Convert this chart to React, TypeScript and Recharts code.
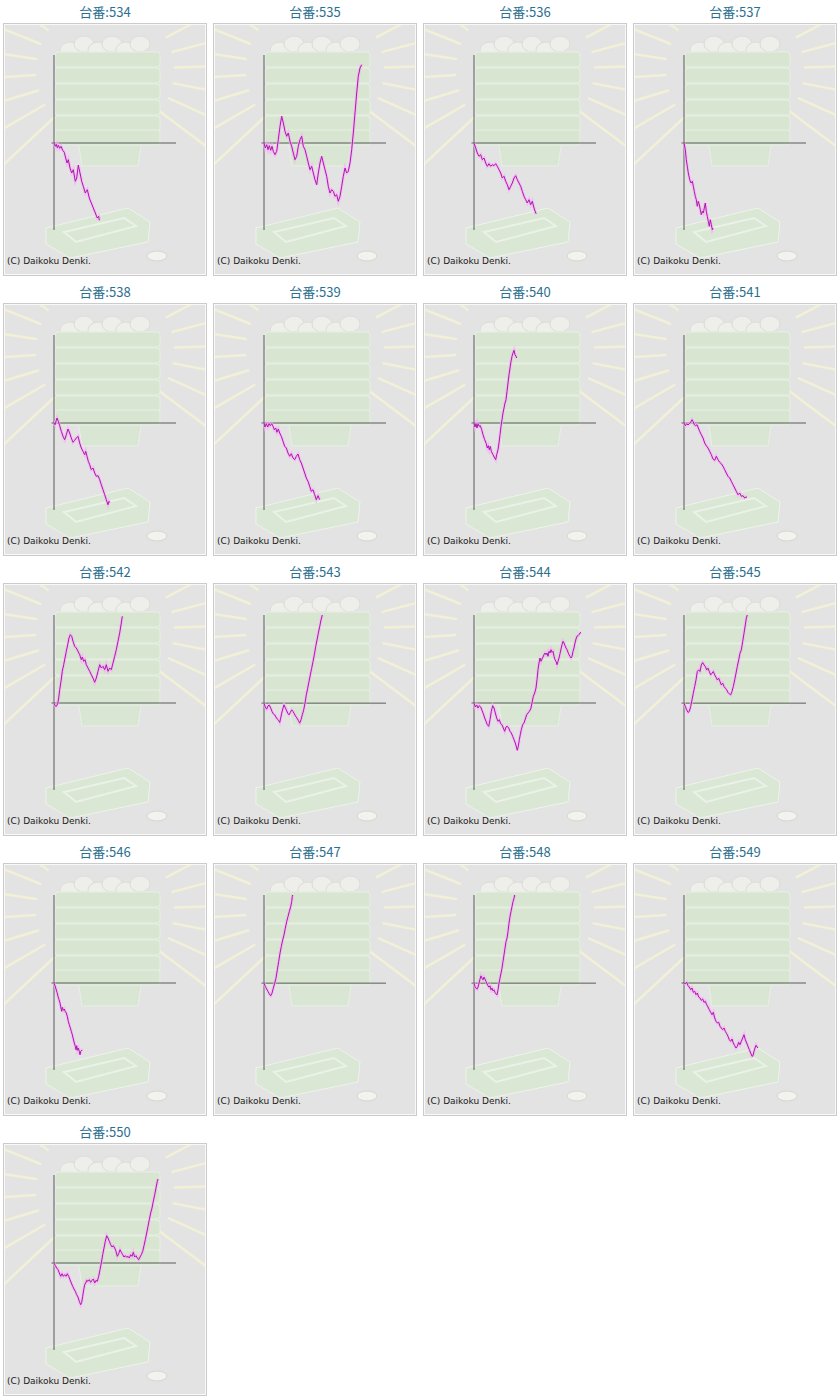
import { LineChart, Line, XAxis, YAxis, ReferenceLine } from "recharts";

// machine numbers
const machines = [534, 535, 536, 537, 538, 539, 540, 541, 542, 543, 544, 545, 546, 547, 548, 549, 550];

// [progress, balance]
const p534: [number, number][] = [
  [0, 0], [1.3, -3.3], [2.3, -1.3], [3.3, -4.7], [4.3, -2.3], [5.7, -5.3], [7, -3.3], [8.7, -7.3],
  [10.3, -9.3], [11.7, -15], [13, -20], [14.3, -16.7], [16, -25], [17.7, -30], [19.3, -26.7],
  [21.3, -38.3], [22.7, -35], [24.3, -22.3], [26, -30], [27.7, -38.3], [29.3, -43.3], [31.3, -50],
  [33.3, -46.7], [35.3, -55], [37.3, -60], [39.3, -65], [41.3, -70], [43.3, -75], [44.7, -73.3], [45.3, -77.3],
];
const p535: [number, number][] = [
  [0, 0], [1.3, -5], [2.7, -1.7], [4, -6.7], [5.3, -2.7], [6.7, -7.3], [8, -3.3], [9.3, -8.3], [11, -11.7],
  [12.7, -8.3], [14.3, 3.3], [16, 16.7], [17.7, 26.7], [19.3, 20], [21, 11.7], [22.7, 6.7], [24.3, 10],
  [26, 1.7], [27.7, -3.3], [29.3, -10], [31, -16.7], [32.7, -13.3], [34.3, -3.3], [36, 3.3], [37.7, 6.7],
  [39.3, -3.3], [41, -6.7], [42.7, -13.3], [44.3, -20], [46, -26.7], [47.7, -23.3], [49.3, -30], [51, -36.7],
  [52.7, -41.7], [54.3, -30], [56, -20], [57.7, -13.3], [59.3, -20], [61, -26.7], [62.7, -33.3], [64.3, -43.3],
  [66, -50], [67.7, -46.7], [69.3, -48.3], [71, -53.3], [72.7, -51.7], [74.3, -58.3], [76, -53.3], [77.7, -43.3],
  [79.3, -33.3], [81, -25], [82.7, -30], [84.3, -28.3], [86, -20], [87.7, -6.7], [89.3, 10], [91, 30],
  [92.7, 50], [94.3, 66.7], [96, 75], [97.7, 78.3],
];
const p536: [number, number][] = [
  [0, 0], [1.7, -5], [3.3, -10], [5, -13.3], [6.7, -11.7], [8.3, -16.7], [10, -15], [11.7, -20], [13.3, -23.3],
  [15, -20.7], [16.7, -23.3], [18.3, -21.7], [20, -22.7], [21.7, -20.7], [23.3, -23.3], [25, -26.7], [26.7, -30],
  [28.3, -35], [30, -33.3], [31.7, -38.3], [33.3, -41.7], [35, -46.7], [36.7, -43.3], [38.3, -40], [40, -35],
  [41.7, -32.7], [43.3, -36.7], [45, -40], [46.7, -43.3], [48.3, -48.3], [50, -53.3], [51.7, -56.7], [53.3, -60],
  [55, -56.7], [56.7, -61.7], [58.3, -58.3], [60, -65], [61.7, -70], [62.3, -70.7],
];
const p537: [number, number][] = [
  [0, 0], [1.3, -6.7], [2.3, -16.7], [3.3, -23.3], [4.3, -30], [5.7, -36.7], [7, -40], [8.3, -38.3],
  [9.3, -43.3], [10.3, -48.3], [11.3, -53.3], [12.3, -56.7], [13.3, -63.3], [14.3, -58.3], [15.3, -61.7],
  [16.3, -66.7], [17.3, -71.7], [18.3, -68.3], [19.3, -70], [20.3, -65], [21.3, -60], [22.3, -68.3],
  [23.3, -73.3], [24.3, -78.3], [25.3, -83.3], [26.3, -76.7], [27.3, -81.7], [28.3, -86.7], [29, -85],
];
const p538: [number, number][] = [
  [0, 0], [1, -1.7], [2, 1.7], [3, 5], [4.3, 1.7], [5.7, -2.7], [7.3, -8.3], [9, -13.3], [10.7, -16.7],
  [12.3, -11.7], [14, -6], [15.7, -10], [17.3, -15], [19, -19.3], [20.7, -17.3], [22.3, -15], [24, -13.3],
  [25.7, -20], [27.3, -25], [29, -28.3], [30.7, -31.7], [31.7, -28.3], [33, -33.3], [34.3, -38.3], [35.7, -41.7],
  [37.3, -46.7], [39, -45], [40.7, -50], [42.3, -53.3], [44, -52.7], [45.7, -56.7], [47.3, -61.7], [49, -66.7],
  [50.7, -71.7], [52.3, -76.7], [54, -81.7], [55, -78.3], [55.7, -79.3],
];
const p539: [number, number][] = [
  [0, 0], [1, -4], [2.3, -0.7], [3.7, -4], [5, -0.7], [6.3, -2.7], [7.7, -0.7], [9, -3.3], [10.3, -6.7],
  [11.7, -5], [13, -9.3], [14.3, -6], [15.7, -10], [17.3, -13.3], [19, -18.3], [20.7, -23.3], [22.3, -25],
  [24, -30], [25.7, -33.3], [27.3, -30.7], [29, -35], [30.7, -36.7], [32.3, -33.3], [34, -31], [35.7, -36.7],
  [37.3, -40], [39, -45], [40.7, -50], [42.3, -55], [44, -58.3], [45.7, -63.3], [47.3, -68.3], [49, -66.7],
  [50.7, -71.7], [52.3, -76.7], [54, -72.7], [55.7, -76.7],
];
const p540: [number, number][] = [
  [0, 0], [1, -4], [2, -0.7], [3, -5], [4, -0.7], [5, -3.3], [6.3, -2.7], [7.7, -6.7], [9, -11.7],
  [10.7, -16.7], [12.3, -20.7], [13.3, -25], [14.3, -22.7], [15.3, -26.7], [16.3, -23.3], [17.3, -28.3],
  [19, -31.7], [20.7, -35], [21.7, -36.7], [22.7, -31.7], [24, -26.7], [25, -20], [26, -11.7], [27, -3.3],
  [28, 3.3], [29, 10], [30, 15], [31, 20], [32, 23.3], [33, 31.7], [34, 40], [35, 48.3], [36, 55],
  [37, 61.7], [38, 66.7], [39, 70], [40, 72.7], [41, 68.3], [42, 66.7], [42.7, 65],
];
const p541: [number, number][] = [
  [0, 0], [1.3, -2.7], [2.7, -0.7], [4, -2], [5.3, -0.7], [6.7, 0.7], [8, 3.3], [9, 1.7], [10.3, -1.7],
  [11.7, -2.7], [13, -1.7], [14.3, -5], [15.7, -8.3], [17.3, -11.7], [19, -15], [20.7, -20], [22.3, -22.7],
  [24, -25], [25.7, -28.3], [27.3, -31.7], [29, -36], [30.7, -37.3], [32.3, -33.3], [34, -36.7], [35.7, -39.3],
  [37.3, -40.7], [39, -43.3], [40.7, -46.7], [42.3, -50], [44, -53.3], [45.7, -55], [47.3, -58.3], [49, -61.7],
  [50.7, -65], [52.3, -68.3], [54, -71.7], [55.7, -70], [57.3, -73.3], [59, -72.7], [60.7, -75], [62.3, -74], [63, -74.3],
];
const p542: [number, number][] = [
  [0, 0], [1, -2.7], [2.3, -3.3], [3.7, -0.7], [4.7, 5], [5.7, 13.3], [7, 21.7], [8.3, 31.7], [9.7, 38.3],
  [11, 45], [12.3, 51.7], [13.7, 58.3], [15, 65], [16.3, 68.3], [17.7, 66.7], [19, 61.7], [20.7, 56.7],
  [22.3, 55], [24, 51.7], [25.7, 48.3], [27.3, 43.3], [28.3, 46], [29.7, 41.7], [31, 43.3], [32.3, 38.3],
  [34, 35], [35.7, 31.7], [37.3, 28.3], [39, 25], [40.7, 20.7], [42.3, 25], [44, 31.7], [45.7, 38.3],
  [47.3, 35], [49, 36.7], [50.7, 33.3], [52.3, 38.3], [54, 31.7], [55.7, 35], [57.3, 33.3], [59, 40],
  [60.7, 46.7], [62.3, 53.3], [64, 61.7], [65.7, 70], [67.3, 80], [68.3, 86.7],
];
const p543: [number, number][] = [
  [0, 0], [1.3, -4], [2.7, -6], [4, -2.7], [5.3, -2], [6.7, -5], [8, -8.3], [9.3, -10.7], [10.7, -11.7],
  [12, -14], [13.3, -16], [14.7, -17.3], [15.7, -19.3], [16.7, -15], [17.7, -10], [19, -5], [20, -1.7],
  [21, -4], [22.3, -6.7], [23.7, -10], [25, -11.7], [26.3, -9.3], [27.7, -6.7], [29, -8.3], [30.3, -10.7],
  [31.7, -13.3], [33, -15], [34.3, -17.3], [35.7, -20], [37, -16.7], [38.3, -11.7], [39.7, -6.7], [41, 0],
  [42.3, 8.3], [43.7, 15], [45, 21.7], [46.3, 28.3], [47.7, 35], [49, 41.7], [50.3, 48.3], [51.7, 56.7],
  [53, 63.3], [54.3, 70], [55.7, 76.7], [57, 83.3], [58.3, 88.3],
];
const p544: [number, number][] = [
  [0, 0], [1.3, -4], [2.7, -2], [4, -5], [5.3, -2.7], [6.7, -4], [8, -7.3], [9.3, -10.7], [10.7, -15],
  [12, -18.3], [13.3, -21.7], [14.7, -23.3], [16, -16.7], [17.3, -8.3], [18.7, -2.7], [20, -5], [21.3, -10],
  [22.7, -15], [24, -18.3], [25.3, -16.7], [26.7, -20.7], [28, -21.7], [29.3, -25], [30.7, -28.3], [32, -24],
  [33.3, -23.3], [34.7, -25], [36, -28.3], [37.3, -30], [38.7, -33.3], [40, -36.7], [41.3, -40], [42.7, -45],
  [43.3, -47.3], [44.3, -43.3], [45.3, -36.7], [46.3, -31.7], [47.3, -26.7], [48.7, -21.7], [50, -20],
  [51.3, -16], [52.7, -11.7], [54, -10], [55.3, -8.3], [56.7, -6], [58, 0], [59.3, 6.7], [60.7, 10],
  [62, 15], [63, 23.3], [64, 33.3], [65, 40], [66, 45], [67, 41.7], [68, 44], [69, 46], [70, 48.3],
  [71, 50], [72, 48.3], [73, 50], [74, 46.7], [75, 51.7], [76, 50], [77, 53.3], [78, 50.7], [79, 51.7],
  [80, 46.7], [81, 43.3], [82, 41.7], [83, 38.3], [84, 41.7], [85, 45], [86, 49.3], [87, 54], [88, 58.3],
  [89, 61.7], [90, 60], [91, 57.3], [92, 55], [93, 53.3], [94, 50.7], [95, 48.3], [96, 46.7], [97, 45],
  [98, 46.7], [99, 51.7], [100, 55], [101, 60], [102, 64], [103, 66.7], [104, 67.3], [105, 68.3], [106, 70], [107, 70.7],
];
const p545: [number, number][] = [
  [0, 0], [1.3, -3.3], [2.7, -6.7], [4, -9.3], [5.3, -8.3], [6.7, -3.3], [8, 3.3], [9.3, 10], [10.7, 16.7],
  [12, 23.3], [13.3, 31.7], [14.7, 33.3], [16, 31.7], [17.3, 38.3], [18.7, 40.7], [20, 38.3], [21.3, 36.7],
  [22.7, 33.3], [24, 35], [25.3, 31.7], [26.7, 28.3], [28, 30], [29.3, 31.7], [30.7, 28.3], [32, 26],
  [33.3, 23.3], [34.7, 25], [36, 21.7], [37.3, 18.3], [38.7, 20], [40, 16.7], [41.3, 15], [42.7, 13.3],
  [44, 10.7], [45.3, 9.3], [46.7, 8.3], [48, 11.7], [49.3, 16.7], [50.7, 23.3], [52, 30], [53.3, 36.7],
  [54.7, 43.3], [56, 50], [57.3, 53.3], [58.7, 61.7], [60, 70], [61.3, 78.3], [62.3, 85], [63.3, 88.3],
];
const p546: [number, number][] = [
  [0, 0], [1, -2.7], [2, -6], [3, -9.3], [4, -13.3], [5, -16.7], [6, -20], [7, -25], [7.7, -28.3],
  [8.3, -24.3], [9.3, -27.3], [10.3, -26], [11.3, -28.7], [12.3, -30], [13.3, -33.3], [14.3, -38.3],
  [15.3, -41.7], [16.3, -45], [17.3, -48.3], [18.3, -51.7], [19.3, -56], [20.3, -60], [21.3, -63.3],
  [22, -66.7], [22.7, -62.7], [23.3, -67.3], [24.3, -65], [25.3, -68.3], [26, -71.7], [26.7, -68.3], [27.7, -67.3], [28, -68],
];
const p547: [number, number][] = [
  [0, 0], [1.3, -3.3], [2.7, -6], [4, -8.3], [5.3, -10.7], [6.7, -12.7], [8, -10], [9.3, -5], [10.7, 0],
  [12, 5], [13.3, 13.3], [14.7, 21.7], [16, 30], [17.3, 36.7], [18.7, 43.3], [20, 48.3], [21.3, 55],
  [22.7, 61.7], [24, 66.7], [25.3, 71.7], [26.7, 76.7], [27.7, 81.7], [28.3, 86.7], [28.7, 88.3],
];
const p548: [number, number][] = [
  [0, 0], [1, -3.3], [2, -5], [3, -6], [4, -4], [5, 0], [6, 4], [7, 7.3], [8, 5], [9, 3.3], [10, 6],
  [11, 4], [12, 1.7], [13, -0.7], [14, -2.7], [15, -4], [16, -2.7], [17, -6.7], [18, -5], [19, -7.7],
  [20, -6.7], [21, -9.3], [22, -10.7], [23, -11.7], [24, -6.7], [25, 0], [26, 5], [27, 10], [28, 15],
  [29, 21.7], [30, 28.3], [31, 35], [32, 41.7], [33, 45], [34, 51.7], [35, 60], [36, 66.7], [37, 71.7],
  [38, 76.7], [39, 81.7], [40, 85], [40.7, 88.3],
];
const p549: [number, number][] = [
  [0, 0], [1.3, -0.7], [2.7, 0.7], [4, -2.7], [5.3, -4], [6.7, -6.7], [8, -5], [9.3, -9.3], [10.7, -8.3],
  [12, -11.7], [13.3, -10], [14.7, -14], [16, -15], [17.3, -17.3], [18.7, -16], [20, -19.3], [21.3, -18.3],
  [22.7, -21.7], [24, -24], [25.3, -26.7], [26.7, -29.3], [28, -31.7], [29.3, -29.3], [30.7, -35], [32, -38.3],
  [33.3, -40], [34.7, -39.3], [36, -43.3], [37.3, -45], [38.7, -46.7], [40, -45], [41.3, -48.3], [42.7, -50.7],
  [44, -53.3], [45.3, -56.7], [46.7, -58.3], [48, -56], [49.3, -60], [50.7, -62.7], [52, -65], [53.3, -63.3],
  [54.7, -59.3], [56, -61.7], [57.3, -58.3], [58.7, -55], [60, -51.7], [61.3, -56.7], [62.7, -60], [64, -63.3],
  [65.3, -66.7], [66.7, -70], [68, -73.3], [69, -72.7], [70, -68.3], [71, -65], [72, -62.3], [73, -64], [74, -65],
];
const p550: [number, number][] = [
  [0, 0], [1.3, -2.7], [2.7, -5], [4, -6.7], [5.3, -10], [6.7, -13.3], [8, -10.7], [9.3, -13.3], [10.7, -11.7],
  [12, -13.3], [13.3, -10.7], [14.7, -13.3], [16, -16.7], [17.3, -20], [18.7, -23.3], [20, -26], [21.3, -28.3],
  [22.7, -31.7], [24, -34], [25.3, -38.3], [26.7, -41.7], [27.7, -39.3], [28.7, -33.3], [29.7, -26.7],
  [30.7, -21.7], [31.7, -20], [32.7, -17.3], [34, -18.3], [35.3, -16.7], [36.7, -19.3], [38, -17.3],
  [39.3, -16], [40.7, -20], [42, -17.3], [43.3, -18.3], [44.7, -13.3], [46, -6.7], [47.3, 0], [48.7, 8.3],
  [50, 15], [51.3, 21.7], [52.7, 27.3], [54, 25], [55.3, 21.7], [56.7, 18.3], [58, 16], [59.3, 17.3],
  [60.7, 15], [62, 11.7], [63.3, 6.7], [64.7, 9.3], [66, 13.3], [67.3, 10.7], [68.7, 8.3], [70, 6],
  [71.3, 7.3], [72.7, 5.7], [74, 6.7], [75.3, 5], [76.7, 8.3], [78, 6.7], [79.3, 10.7], [80.7, 6],
  [82, 7.3], [83.3, 5], [84.7, 3.3], [86, 6], [87.3, 8.3], [88.7, 11.7], [90, 17.3], [91.3, 23.3],
  [92.7, 30], [94, 36.7], [95.3, 43.3], [96.7, 50], [98, 55], [99.3, 61.7], [100.7, 68.3], [102, 75],
  [103.3, 81.7], [104, 84],
];

const series = [p534, p535, p536, p537, p538, p539, p540, p541, p542, p543, p544, p545, p546, p547, p548, p549, p550];

// faint pachinko picture behind each graph
const Backdrop = () => {
  const rays = [];
  for (let a = 137; a <= 403; a += 13) {
    const r = (a * Math.PI) / 180;
    rays.push(
      <line
        key={a}
        x1={105 + Math.cos(r) * 70}
        y1={70 + Math.sin(r) * 70}
        x2={105 + Math.cos(r) * 150}
        y2={70 + Math.sin(r) * 150}
        stroke="#f2f0d6"
        strokeWidth={2.5}
        strokeLinecap="round"
      />
    );
  }
  const layers = [52, 68, 84, 100, 116, 130];
  return (
    <svg width={210} height={280} style={{ position: "absolute", left: 0, top: 0 }}>
      <defs>
        <clipPath id="panelClip">
          <rect x={5} y={25} width={200} height={249} />
        </clipPath>
      </defs>
      <g clipPath="url(#panelClip)">
        {rays}
        {[70, 84, 98, 112, 126, 140].map((cx, i) => (
          <ellipse key={cx} cx={cx} cy={i % 2 ? 44 : 50} rx={10} ry={8} fill="#eeeeea" stroke="#dedcd6" />
        ))}
        <path d="M78 140 L142 140 L138 166 L82 166 Z" fill="#d9e6d4" stroke="#e8f0e5" />
        {layers.map((y) => (
          <rect key={y} x={55} y={y} width={105} height={15} rx={3} fill="#d7e5d1" stroke="#e7f0e3" />
        ))}
        <path d="M46 228 L128 208 L150 222 L148 242 L70 258 L46 244 Z" fill="#d9e7d4" stroke="#edf4ea" />
        <path d="M64 232 L124 218 L136 226 L76 242 Z" fill="none" stroke="#eaf2e7" strokeWidth={2} />
        <ellipse cx={157} cy={256} rx={10} ry={5} fill="#f2f2ef" stroke="#d6d6d0" />
      </g>
    </svg>
  );
};

const Panel = ({ no, points }: { no: number; points: [number, number][] }) => {
  const data = points.map(([x, y]) => ({ x, y }));
  return (
    <div style={{ position: "relative", width: 210, height: 280 }}>
      <div
        style={{
          position: "absolute",
          left: 0,
          top: 3,
          width: 210,
          textAlign: "center",
          fontFamily: "'Noto Sans CJK JP', sans-serif",
          fontSize: 13,
          lineHeight: "18px",
          color: "#2b6f8f",
        }}
      >
        台番:{no}
      </div>
      <div
        style={{
          position: "absolute",
          left: 3,
          top: 23,
          width: 204,
          height: 253,
          boxSizing: "border-box",
          border: "1px solid #cbcbcb",
          boxShadow: "inset 0 0 0 1px #f8f8f8",
          background: "#e3e3e3",
        }}
      />
      <Backdrop />
      <div style={{ position: "absolute", left: 3, top: 23 }}>
        <LineChart width={204} height={253} data={data} margin={{ top: 32, right: 31, bottom: 46, left: 51 }}>
          <XAxis type="number" dataKey="x" domain={[0, 122]} hide />
          <YAxis type="number" domain={[-87, 88]} hide />
          <ReferenceLine x={0} stroke="#5a5a5a" strokeWidth={1} />
          <ReferenceLine
            segment={[{ x: -2.5, y: 0 }, { x: 122, y: 0 }]}
            stroke="#5a5a5a"
            strokeWidth={1}
            ifOverflow="visible"
          />
          <Line type="linear" dataKey="y" stroke="#f5b0f5" strokeOpacity={0.7} strokeWidth={3} dot={false} isAnimationActive={false} />
          <Line type="linear" dataKey="y" stroke="#ad18ad" strokeWidth={1} dot={false} isAnimationActive={false} />
        </LineChart>
      </div>
      <div
        style={{
          position: "absolute",
          left: 7,
          top: 256,
          fontFamily: "'DejaVu Sans', Verdana, sans-serif",
          fontSize: 9,
          lineHeight: "11px",
          color: "#1a1a1a",
        }}
      >
        (C) Daikoku Denki.
      </div>
    </div>
  );
};

export default function App() {
  return (
    <div
      style={{
        position: "absolute",
        left: 0,
        top: 0,
        width: 840,
        height: 1400,
        background: "#fff",
        display: "flex",
        flexWrap: "wrap",
        alignContent: "flex-start",
      }}
    >
      {machines.map((no, i) => (
        <Panel key={no} no={no} points={series[i]} />
      ))}
    </div>
  );
}
